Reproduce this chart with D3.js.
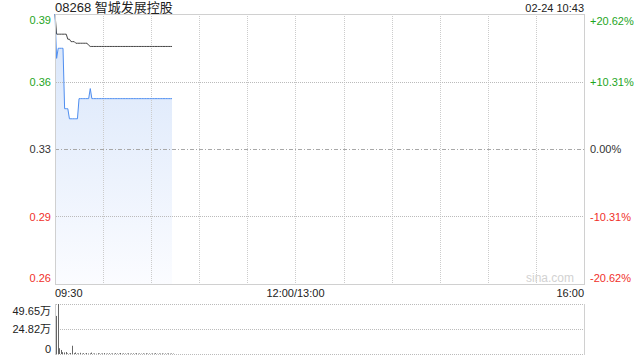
<!DOCTYPE html>
<html>
<head>
<meta charset="utf-8">
<script src="https://cdn.jsdelivr.net/npm/d3@7"></script>
<style>
  body { margin: 0; background: #fff; }
  svg { display: block; font-family: "Liberation Sans", Arial, "Noto Sans CJK SC", sans-serif; }
</style>
</head>
<body>
<div id="chart"></div>
<script>
// Chart data
const title = "08268 智城发展控股";
const stamp = "02-24 10:43";
const prevClose = 0.325;
const maxPct = 0.2062;

// minute index since 09:30 (0..73 -> 10:43)
const price = [
  0.392, 0.37, 0.375, 0.375, 0.375, 0.375, 0.345, 0.345, 0.345, 0.34,
  0.34, 0.34, 0.34, 0.34, 0.34, 0.35, 0.35, 0.35, 0.35, 0.35,
  0.35, 0.35, 0.355, 0.35, 0.35, 0.35, 0.35, 0.35, 0.35, 0.35,
  0.35, 0.35, 0.35, 0.35, 0.35, 0.35, 0.35, 0.35, 0.35, 0.35,
  0.35, 0.35, 0.35, 0.35, 0.35, 0.35, 0.35, 0.35, 0.35, 0.35,
  0.35, 0.35, 0.35, 0.35, 0.35, 0.35, 0.35, 0.35, 0.35, 0.35,
  0.35, 0.35, 0.35, 0.35, 0.35, 0.35, 0.35, 0.35, 0.35, 0.35,
  0.35, 0.35, 0.35, 0.35
];
const avgPrice = [
  0.392, 0.382, 0.382, 0.382, 0.382, 0.382, 0.382, 0.382, 0.3795, 0.3795,
  0.3783, 0.3783, 0.3783, 0.3775, 0.3775, 0.3775, 0.3775, 0.3775, 0.3775, 0.3775,
  0.3775, 0.3765, 0.3759, 0.3759, 0.3759, 0.3759, 0.3759, 0.3759, 0.3759, 0.3759,
  0.3759, 0.3759, 0.3759, 0.3759, 0.3759, 0.3759, 0.3759, 0.3759, 0.3759, 0.3759,
  0.3759, 0.3759, 0.3759, 0.3759, 0.3759, 0.3759, 0.3759, 0.3759, 0.3759, 0.3759,
  0.3759, 0.3759, 0.3759, 0.3759, 0.3759, 0.3759, 0.3759, 0.3759, 0.3759, 0.3759,
  0.3759, 0.3759, 0.3759, 0.3759, 0.3759, 0.3759, 0.3759, 0.3759, 0.3759, 0.3759,
  0.3759, 0.3759, 0.3759, 0.3759
];
// volume in 万 shares
const volume = [
  37.8, 49.65, 5.7, 4.0, 1.8, 1.5, 2.0, 0.6, 0.4, 1.0,
  8.2, 0.8, 1.5, 0.5, 0.6, 1.2, 0.4, 0.8, 0.3, 1.0,
  0.5, 0.6, 1.4, 0.4, 0.6, 0.3, 0.8, 0.5, 0.4, 0.6,
  0.9, 0.3, 0.5, 0.7, 0.4, 0.6, 0.3, 0.8, 0.5, 0.4,
  1.0, 0.3, 0.6, 0.5, 0.4, 0.7, 0.3, 0.5, 0.6, 0.4,
  0.8, 0.3, 0.5, 0.4, 0.6, 0.3, 0.7, 0.4, 0.5, 0.3,
  0.6, 0.4, 0.8, 0.3, 0.5, 0.4, 0.6, 0.3, 0.5, 0.4,
  0.6, 0.3, 0.5, 0.4
];

const priceTicks = [
  { pct: 0.2062, label: "0.39", pctLabel: "+20.62%" },
  { pct: 0.1031, label: "0.36", pctLabel: "+10.31%" },
  { pct: 0, label: "0.33", pctLabel: "0.00%" },
  { pct: -0.1031, label: "0.29", pctLabel: "-10.31%" },
  { pct: -0.2062, label: "0.26", pctLabel: "-20.62%" }
];
const volTicks = [
  { v: 49.65, label: "49.65万" },
  { v: 24.82, label: "24.82万" },
  { v: 0, label: "0" }
];
const timeLabels = [
  { m: 0, label: "09:30", anchor: "start" },
  { m: 150, label: "12:00/13:00", anchor: "middle" },
  { m: 330, label: "16:00", anchor: "end" }
];

const W = 640, H = 360;
const plotLeft = 55, plotRight = 584;
const plotTop = 14, plotBottom = 284;
const vTop = 304, vBottom = 354;

const green = "#1ea51e", red = "#f0302a", dark = "#333";

const svg = d3.select("#chart").append("svg")
  .attr("width", W).attr("height", H);

const x = d3.scaleLinear().domain([0, 330]).range([plotLeft, plotRight]);
const y = d3.scaleLinear()
  .domain([prevClose * (1 - maxPct), prevClose * (1 + maxPct)])
  .range([plotBottom, plotTop]);
const yv = d3.scaleLinear().domain([0, 49.65]).range([vBottom, vTop]);

// gradient for area, dot pattern for horizontal grid
const defs = svg.append("defs");
const grad = defs.append("linearGradient")
  .attr("id", "fillGrad").attr("x1", 0).attr("y1", 0).attr("x2", 0).attr("y2", 1);
grad.append("stop").attr("offset", "0%").attr("stop-color", "#d6e4fa");
grad.append("stop").attr("offset", "100%").attr("stop-color", "#fbfcff");

const dots = defs.append("pattern")
  .attr("id", "hDots").attr("patternUnits", "userSpaceOnUse")
  .attr("x", 0).attr("y", 0).attr("width", 2).attr("height", 1);
dots.append("rect").attr("width", 1).attr("height", 1).attr("fill", "#bbbbbb");

// area under price
const area = d3.area()
  .x((d, i) => x(i)).y0(plotBottom).y1(d => y(d));
svg.append("path").datum(price)
  .attr("d", area).attr("fill", "url(#fillGrad)");

// vertical grid (every 30 min)
const gridTimes = d3.range(30, 330, 30);
svg.append("g").selectAll("path")
  .data(gridTimes).enter().append("path")
  .attr("d", d => `M${Math.round(x(d)) + 0.5},${plotTop}V${plotBottom}`)
  .attr("stroke", "#cccccc").attr("stroke-dasharray", "1,1");

// horizontal grid as 1px dotted strips
svg.append("g").selectAll("rect")
  .data(priceTicks.filter(d => Math.abs(d.pct) < 0.2 && d.pct !== 0))
  .enter().append("rect")
  .attr("x", plotLeft).attr("width", plotRight - plotLeft)
  .attr("y", d => Math.round(y(prevClose * (1 + d.pct))))
  .attr("height", 1)
  .attr("fill", "url(#hDots)");

// previous close line (dash-dot)
svg.append("path")
  .attr("d", `M${plotLeft},${Math.round(y(prevClose)) + 0.5}H${plotRight}`)
  .attr("fill", "none").attr("stroke", "#a8a8a8")
  .attr("stroke-dasharray", "4,2,1,2");

// lines
svg.append("path").datum(avgPrice)
  .attr("d", d3.line().x((d, i) => x(i)).y(d => y(d)))
  .attr("fill", "none").attr("stroke", "#444").attr("stroke-width", 1);

svg.append("path").datum(price)
  .attr("d", d3.line().x((d, i) => x(i)).y(d => y(d)))
  .attr("fill", "none").attr("stroke", "#4f8ef0").attr("stroke-width", 1);

// border
svg.append("rect")
  .attr("x", plotLeft + 0.5).attr("y", plotTop + 0.5)
  .attr("width", plotRight - plotLeft).attr("height", plotBottom - plotTop)
  .attr("fill", "none").attr("stroke", "#d0d0d0");

// watermark
svg.append("text")
  .attr("x", plotRight - 10).attr("y", plotBottom - 2)
  .attr("text-anchor", "end")
  .attr("font-size", 12).attr("fill", "#d2d2d2")
  .text("sina.com");

// left price labels
const colorFor = p => p > 0 ? green : (p < 0 ? red : dark);
svg.append("g").selectAll("text")
  .data(priceTicks).enter().append("text")
  .attr("x", plotLeft - 4)
  .attr("y", d => {
    const yy = y(prevClose * (1 + d.pct));
    if (d.pct === maxPct) return yy + 10;
    if (d.pct === -maxPct) return yy - 2;
    return yy + 4;
  })
  .attr("text-anchor", "end").attr("font-size", 11)
  .attr("fill", d => colorFor(d.pct))
  .text(d => d.label);

// right percent labels
svg.append("g").selectAll("text")
  .data(priceTicks).enter().append("text")
  .attr("x", plotRight + 6)
  .attr("y", d => {
    const yy = y(prevClose * (1 + d.pct));
    if (d.pct === maxPct) return yy + 11;
    if (d.pct === -maxPct) return yy - 2;
    return yy + 4;
  })
  .attr("text-anchor", "start").attr("font-size", 11)
  .attr("fill", d => colorFor(d.pct))
  .text(d => d.pctLabel);

// title and stamp
svg.append("text")
  .attr("x", plotLeft).attr("y", 12)
  .attr("font-size", 13).attr("fill", "#222")
  .text(title);
svg.append("text")
  .attr("x", plotRight).attr("y", 12)
  .attr("text-anchor", "end").attr("font-size", 11).attr("fill", "#222")
  .text(stamp);

// time labels
svg.append("g").selectAll("text")
  .data(timeLabels).enter().append("text")
  .attr("x", d => x(d.m)).attr("y", 297)
  .attr("text-anchor", d => d.anchor)
  .attr("font-size", 11).attr("fill", "#222")
  .text(d => d.label);

// volume panel grid
svg.append("g").selectAll("rect")
  .data(volTicks).enter().append("rect")
  .attr("x", plotLeft).attr("width", plotRight - plotLeft)
  .attr("y", d => Math.round(yv(d.v)))
  .attr("height", 1)
  .attr("fill", "url(#hDots)");

svg.append("path")
  .attr("d", `M${plotLeft + 0.5},${vTop}V${vBottom + 1}M${plotRight + 0.5},${vTop}V${vBottom + 1}`)
  .attr("stroke", "#d0d0d0");

svg.append("g").selectAll("line")
  .data(volume).enter().append("line")
  .attr("x1", (d, i) => Math.round(x(i)) + 1.5)
  .attr("x2", (d, i) => Math.round(x(i)) + 1.5)
  .attr("y1", vBottom)
  .attr("y2", d => yv(d))
  .attr("stroke", "#666").attr("stroke-width", 1);

svg.append("g").selectAll("text")
  .data(volTicks).enter().append("text")
  .attr("x", plotLeft - 4)
  .attr("y", (d, i) => {
    const yy = yv(d.v);
    if (i === 0) return yy + 11;
    if (d.v === 0) return yy - 1;
    return yy + 4;
  })
  .attr("text-anchor", "end").attr("font-size", 11).attr("fill", "#222")
  .text(d => d.label);
</script>
</body>
</html>
